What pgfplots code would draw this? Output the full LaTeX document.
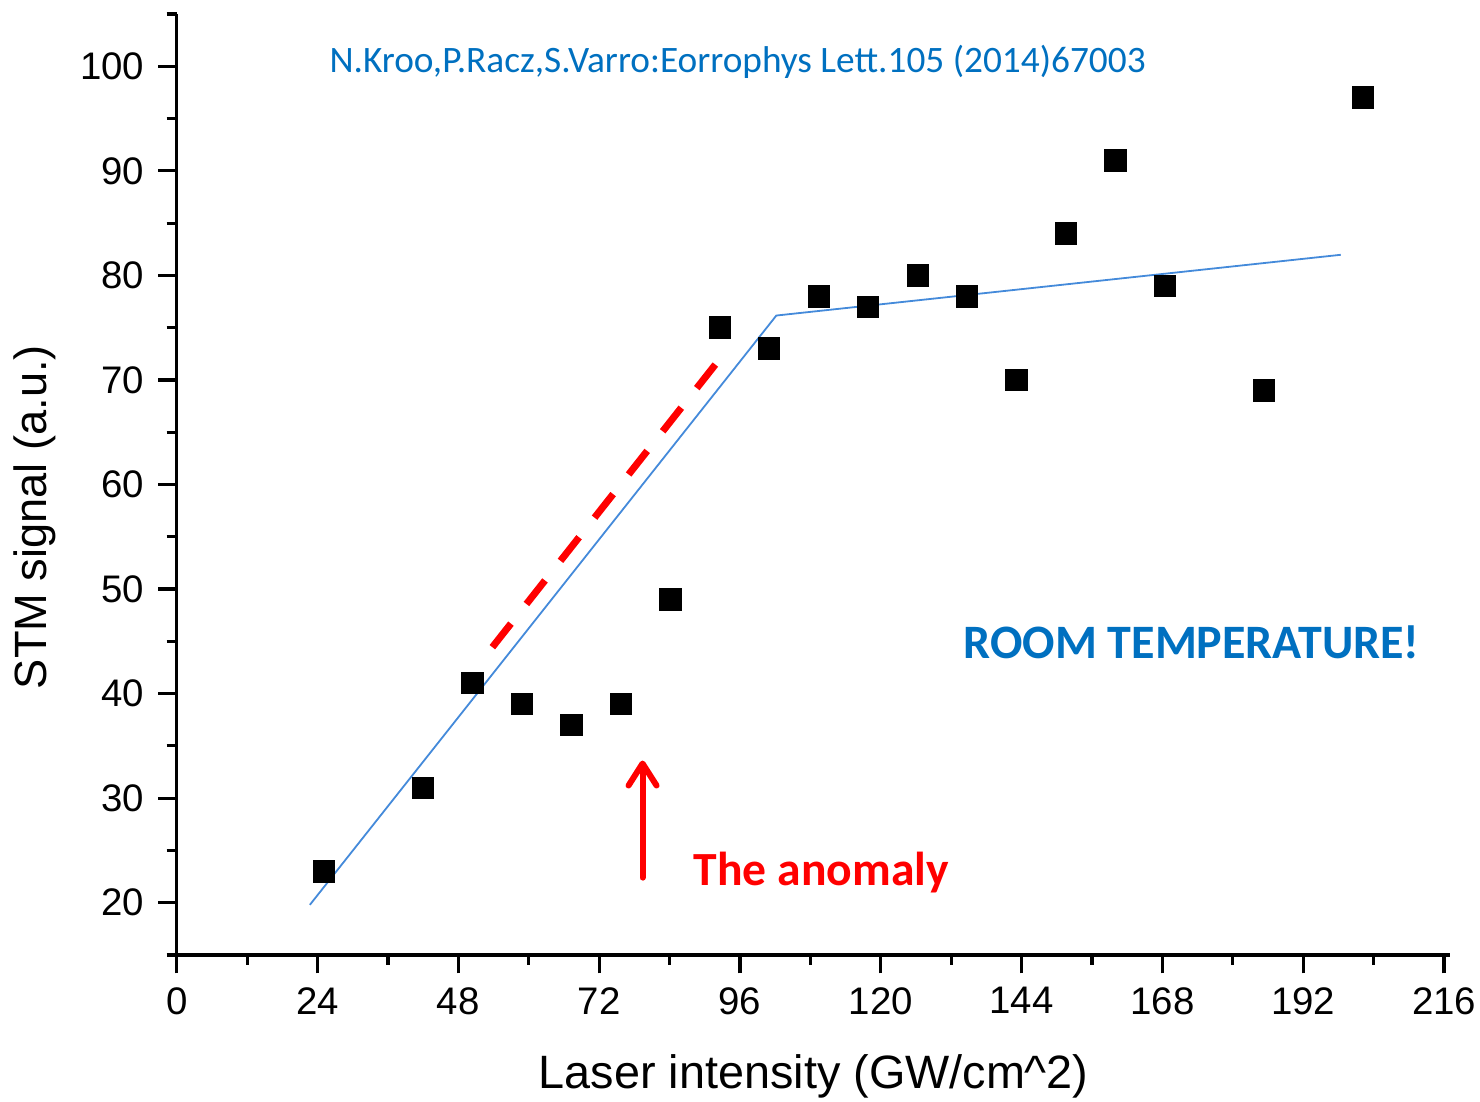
\documentclass[border=0pt]{standalone}
\usepackage{pgfplots}
\pgfplotsset{compat=1.18}
\usepackage{fontspec}
\setmainfont{Liberation Sans}
\newfontfamily\calibri{Carlito}
\usetikzlibrary{arrows.meta}
\definecolor{fitblue}{RGB}{68,138,218}
\definecolor{txtblue}{RGB}{0,112,192}
\definecolor{annred}{RGB}{255,0,0}
\begin{document}
\begin{tikzpicture}
\useasboundingbox (-44.175pt,-36.75pt) rectangle (325.825pt,238.75pt);
\begin{axis}[
  scale only axis,
  width=318.3pt, height=235.25pt,
  xmin=0, xmax=217, ymin=15, ymax=105,
  axis lines*=left,
  axis line style={line width=0.8pt},
  every tick/.style={black, line width=0.8pt},
  tick align=outside,
  major tick length=4.6pt,
  minor tick length=2.5pt,
  xtick={0,24,...,216},
  minor xtick={12,36,...,204},
  ytick={20,30,...,100},
  minor ytick={15,25,...,105},
  tick label style={font=\fontsize{9.6}{11}\selectfont},
  /pgf/number format/assume math mode=true,
  xlabel={Laser intensity (GW/cm\textasciicircum 2)},
  ylabel={STM signal (a.u.)},
  xlabel style={font=\fontsize{11.7}{13}\selectfont, at={(axis description cs:0.5003,-0.1286)}, anchor=center},
  ylabel style={font=\fontsize{11.3}{13}\selectfont, at={(axis description cs:-0.1112,0.4655)}, anchor=center},
  clip=false,
]
% linear fit (two segments)
\addplot[fitblue, line width=0.45pt, no markers] coordinates {
  (22.7,19.8) (102.2,76.16) (198.4,81.97)
};
% red dashed guide
\addplot[annred, line width=1.75pt, dash pattern=on 7.5pt off 6.25pt, no markers] coordinates {
  (53.8,44.44) (91.9,71.54)
};
% arrow
\addplot[annred, line width=1.5pt, line cap=round, no markers,
  -{Straight Barb[length=5.5pt,width=7pt,round]}] coordinates {
  (79.4,22.4) (79.4,33.6)
};
% data
\addplot[only marks, mark=square*, mark size=2.6pt, black] coordinates {
  (25.1,23) (41.97,31) (50.4,41) (58.83,39) (67.27,37) (75.7,39)
  (84.13,49) (92.56,75) (101.0,73) (109.43,78) (117.86,77) (126.3,80)
  (134.73,78) (143.16,70) (151.6,84) (160.03,91) (168.46,79)
  (185.33,69) (202.2,97)
};
\node[text=txtblue, font=\calibri\fontsize{9.33}{11}\selectfont, anchor=center] at (axis cs:95.6,100.45) {N.Kroo,P.Racz,S.Varro:Eorrophys Lett.105 (2014)67003};
\node[text=txtblue, font=\calibri\bfseries\fontsize{12.0}{14}\selectfont, anchor=center] at (axis cs:172.97,44.9) {ROOM TEMPERATURE!};
\node[text=annred, font=\calibri\bfseries\fontsize{11.9}{14}\selectfont, anchor=base west, inner sep=0pt] at (axis cs:88.0,21.66) {The anomaly};
\end{axis}
\end{tikzpicture}
\end{document}
